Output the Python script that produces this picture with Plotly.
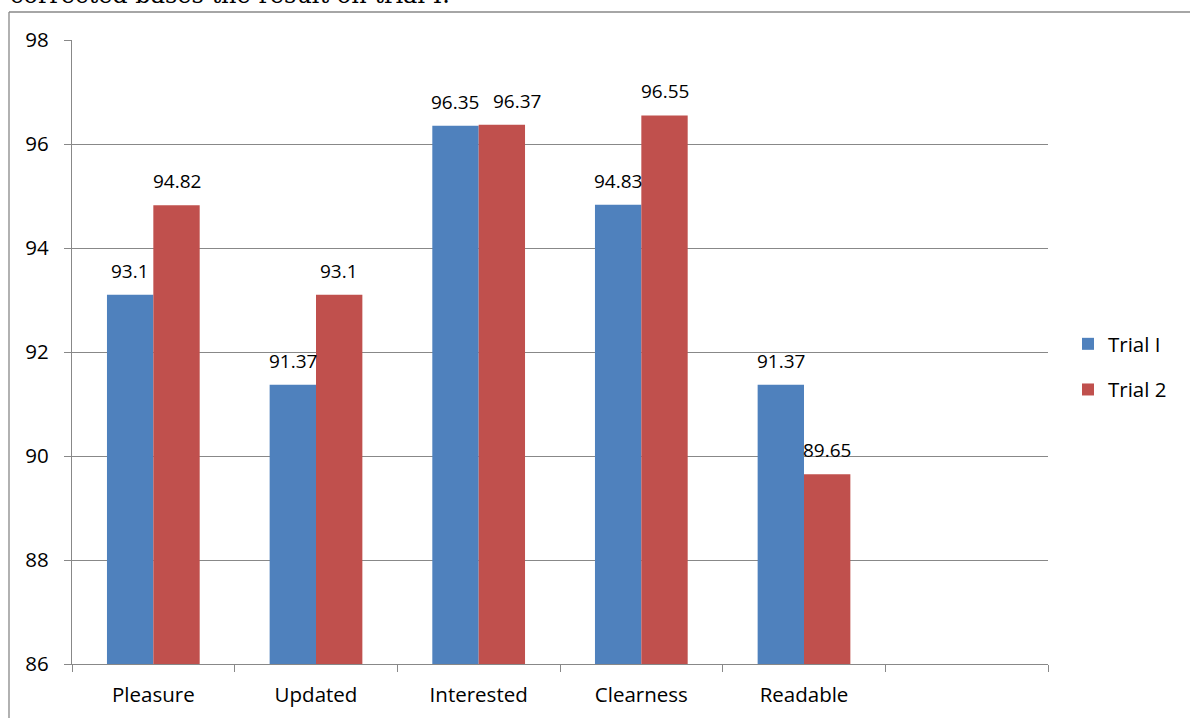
import plotly.graph_objects as go

categories = ["Pleasure", "Updated", "Interested", "Clearness", "Readable"]
trial1 = [93.1, 91.37, 96.35, 94.83, 91.37]
trial2 = [94.82, 93.1, 96.37, 96.55, 89.65]
series_names = ["Trial I", "Trial 2"]
y_ticks = [86, 88, 90, 92, 94, 96, 98]
caption = "corrected bases the result on trial I."

BLUE = "#4F81BD"
RED = "#C0504D"
GRAY = "#888888"
FONT = "Open Sans"

# label nudge (pixels) for labels that would overlap: (series index, category) -> dx
label_nudge = {(1, "Interested"): 15}

W, H = 1190, 718
L, R, T, B = 72, 142, 40, 54
pw, ph = W - L - R, H - T - B

def px_x(p):
    return (p - L) / pw

def px_y(p):
    return (H - B - p) / ph

fig = go.Figure()
fig.add_trace(go.Bar(x=categories, y=trial1, name=series_names[0], marker_color=BLUE,
                     marker_line_width=0, legendgroup="a"))
fig.add_trace(go.Bar(x=categories, y=trial2, name=series_names[1], marker_color=RED,
                     marker_line_width=0, legendgroup="b"))

cat_w = pw / 6.0
bargap = 0.43
bar_w = cat_w * (1 - bargap) / 2
for si, (vals, sign) in enumerate(((trial1, -1), (trial2, 1))):
    for c, v in zip(categories, vals):
        fig.add_annotation(x=c, y=v, text=f"{v:g}", showarrow=False,
                           xshift=sign * bar_w / 2 + label_nudge.get((si, c), 0),
                           yshift=24, yanchor="middle",
                           font=dict(family=FONT, size=19, color="#000000"))

fig.add_annotation(xref="paper", yref="paper", x=px_x(8), y=px_y(-5), text=caption,
                   showarrow=False, xanchor="left", yanchor="middle",
                   font=dict(family="DejaVu Serif", size=24, color="#000000"))

fig.add_shape(type="line", xref="paper", yref="paper", x0=px_x(9), x1=px_x(9),
              y0=px_y(730), y1=px_y(12), line=dict(color=GRAY, width=1.3))
fig.add_shape(type="line", xref="paper", yref="paper", x0=px_x(9), x1=px_x(1200),
              y0=px_y(12), y1=px_y(12), line=dict(color=GRAY, width=1.3))

fig.update_layout(
    width=W, height=H,
    margin=dict(l=L, r=R, t=T, b=B, autoexpand=False),
    paper_bgcolor="white", plot_bgcolor="white",
    barmode="group", bargap=bargap, bargroupgap=0,
    font=dict(family=FONT, size=20.5, color="#000000"),
    showlegend=True,
    legend=dict(x=px_x(1068), y=px_y(367), xanchor="left", yanchor="middle",
                traceorder="grouped", tracegroupgap=16,
                font=dict(family=FONT, size=20.5, color="#000000"),
                bgcolor="rgba(0,0,0,0)"),
    xaxis=dict(categoryorder="array", categoryarray=categories + [" "],
               range=[-0.5, 5.5], tickson="boundaries", ticks="outside", ticklen=7,
               tickcolor=GRAY, tickwidth=1.3, showline=True, linecolor=GRAY, linewidth=1.3,
               showgrid=False, ticklabelstandoff=12,
               tickfont=dict(family=FONT, size=20.5, color="#000000")),
    yaxis=dict(range=[86, 98], tickvals=y_ticks, ticks="outside", ticklen=7,
               tickcolor=GRAY, tickwidth=1.3, showline=True, linecolor=GRAY, linewidth=1.3,
               showgrid=True, gridcolor=GRAY, gridwidth=1.3, zeroline=False,
               ticklabelstandoff=11,
               tickfont=dict(family=FONT, size=20.5, color="#000000")),
)

fig.write_html("out.html", config={"displayModeBar": False},
               post_script="document.body.style.margin='0';document.body.style.overflow='hidden';")
